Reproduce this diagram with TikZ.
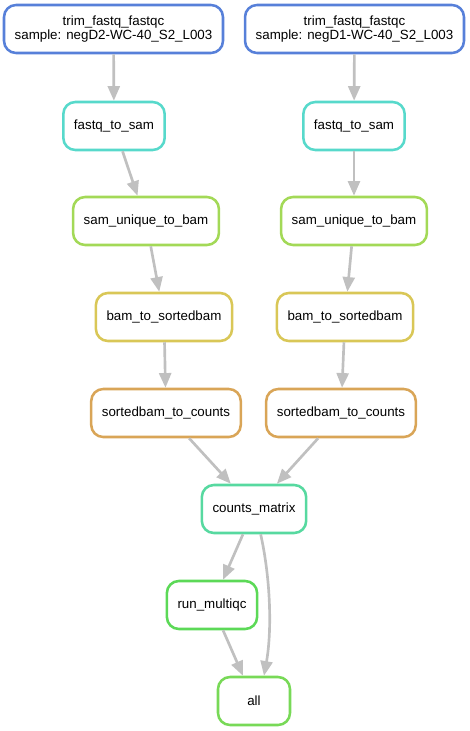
\documentclass[tikz,border=0pt]{standalone}
\usepackage{fontspec}
\setmainfont{Liberation Sans}
\usetikzlibrary{arrows.meta}
\definecolor{ctrim}{RGB}{87,128,217}
\definecolor{csam}{RGB}{87,217,203}
\definecolor{cbam}{RGB}{163,217,87}
\definecolor{csort}{RGB}{217,199,87}
\definecolor{ccount}{RGB}{217,165,87}
\definecolor{cmatrix}{RGB}{87,217,160}
\definecolor{cqc}{RGB}{92,217,87}
\definecolor{call}{RGB}{120,217,87}
\definecolor{cedge}{RGB}{192,192,192}

\begin{document}
\begin{tikzpicture}[x=0.75pt,y=-0.75pt,
	rule/.style={draw=#1,line width=1.9pt,rounded corners=9pt,fill=white,minimum height=36pt,minimum width=54pt,inner xsep=8pt,align=center,font=\fontsize{10}{10}\selectfont},
	edge/.style={draw=cedge,line width=2pt,-{Triangle[length=11pt,width=9pt]}}]
	\useasboundingbox (0,0) rectangle (470,731);
	\node[rule=ctrim] (trim2) at (113.5,29) {trim\_fastq\_fastqc\\sample: negD2-WC-40\_S2\_L003};
	\node[rule=ctrim] (trim1) at (354.5,29) {trim\_fastq\_fastqc\\sample: negD1-WC-40\_S2\_L003};
	\node[rule=csam] (sam2) at (114,126) {fastq\_to\_sam};
	\node[rule=csam] (sam1) at (354,126) {fastq\_to\_sam};
	\node[rule=cbam] (bam2) at (146,221) {sam\_unique\_to\_bam};
	\node[rule=cbam] (bam1) at (354,221) {sam\_unique\_to\_bam};
	\node[rule=csort] (sort2) at (164,317) {bam\_to\_sortedbam};
	\node[rule=csort] (sort1) at (345,317) {bam\_to\_sortedbam};
	\node[rule=ccount] (count2) at (166,413) {sortedbam\_to\_counts};
	\node[rule=ccount] (count1) at (341,413) {sortedbam\_to\_counts};
	\node[rule=cmatrix] (matrix) at (254,509) {counts\_matrix};
	\node[rule=cqc] (qc) at (212,605) {run\_multiqc};
	\node[rule=call] (all) at (254,701) {all};
	\draw[edge] (trim2) -- (sam2);
	\draw[edge] (trim1) -- (sam1);
	\draw[edge] (sam2) -- (bam2);
	\draw[edge] (sam1) -- (bam1);
	\draw[edge] (bam2) -- (sort2);
	\draw[edge] (bam1) -- (sort1);
	\draw[edge] (sort2) -- (count2);
	\draw[edge] (sort1) -- (count1);
	\draw[edge] (count2) -- (matrix);
	\draw[edge] (count1) -- (matrix);
	\draw[edge] (matrix) -- (qc);
	\draw[edge] (qc) -- (all);
	\draw[edge] ([xshift=5pt]matrix.south) .. controls +(10,45) and +(8,-45) .. ([xshift=7.5pt]all.north);
\end{tikzpicture}
\end{document}
